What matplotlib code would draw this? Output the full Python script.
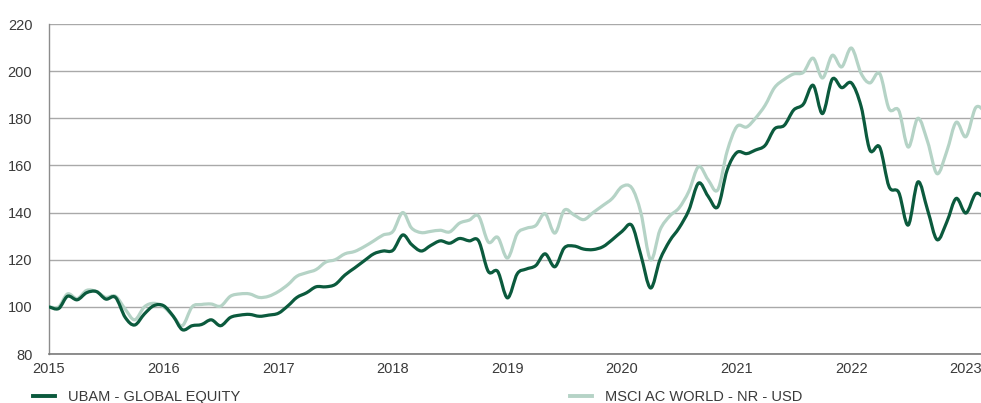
import matplotlib
matplotlib.use("Agg")
import matplotlib.pyplot as plt
import matplotlib.dates as mdates
from matplotlib.path import Path
from matplotlib.patches import PathPatch
from matplotlib.lines import Line2D
import numpy as np
import pandas as pd

# ---- data (monthly, Jan 2015 onwards) ----
start_month = "2015-01-01"

ubam_values = [
    100, 99.3, 104.5, 103, 106, 106.5, 103.3, 104, 95.5, 92.3, 97, 100.5,      # 2015
    100.5, 96, 90.3, 92, 92.5, 94.5, 92, 95.5, 96.5, 96.8, 96, 96.5,            # 2016
    97.3, 100.5, 104, 106, 108.5, 108.5, 109.5, 113.5, 116.5, 119.5, 122.5, 123.7,  # 2017
    124, 130.5, 126.5, 123.7, 126, 128, 127, 129, 128, 128, 115, 115,           # 2018
    103.8, 114, 116, 117.5, 122.5, 117, 125, 125.8, 124.5, 124.3, 125.5, 128.5, # 2019
    132, 134.6, 122, 108, 120, 128, 133.5, 141, 152.5, 147, 142.4, 158,         # 2020
    165.5, 165, 166.5, 168.5, 175.5, 177, 183.5, 186, 194, 182, 196.6, 193,     # 2021
    195, 185, 166.5, 167.8, 151, 148.5, 134.7, 153, 141, 128.5, 136, 146,       # 2022
    139.8, 148, 146,                                                            # 2023
]

msci_values = [
    100, 100, 105.5, 103.5, 107, 106.5, 104, 104.5, 99, 94.5, 100, 101.5,       # 2015
    100, 96, 92, 100, 101, 101.2, 100.3, 104.5, 105.5, 105.5, 104, 104.5,       # 2016
    106.5, 109.5, 113, 114.5, 115.8, 119, 120, 122.5, 123.5, 125.5, 128, 130.5, # 2017
    132, 140, 133.5, 131.5, 132, 132.5, 131.8, 135.5, 136.8, 138.5, 127.5, 129.5,  # 2018
    120.7, 131, 133.3, 134.5, 139.5, 131.3, 141, 139, 137, 140, 143, 146,       # 2019
    151, 150.5, 140, 120, 132.6, 138.5, 142, 149, 159.5, 154, 149.6, 166,       # 2020
    176.5, 176.3, 180, 185.5, 193, 196.5, 198.8, 199.5, 205.5, 197.1, 206.7, 201.8,  # 2021
    209.8, 199, 195, 199, 184, 183.3, 167.8, 180, 170, 156.5, 166, 178.3,       # 2022
    172.2, 184.5, 183,                                                          # 2023
]

series_labels = ["UBAM - GLOBAL EQUITY", "MSCI AC WORLD - NR - USD"]
year_ticks = list(range(2015, 2024))
y_ticks = [80, 100, 120, 140, 160, 180, 200, 220]

dates = pd.date_range(start_month, periods=len(ubam_values), freq="MS")

# ---- style ----
DARK = "#0b5a3d"
LIGHT = "#b5d3c6"
TXT = "#3a3a3a"
LW = 2.3
plt.rcParams["font.family"] = ["Liberation Sans", "DejaVu Sans"]

fig = plt.figure(figsize=(9.81, 4.03), dpi=100)
ax = fig.add_axes([49 / 981, 1 - 354 / 403, 1 - 49 / 981, (354 - 24) / 403])


def smooth_path(xvals, yvals):
    """Catmull-Rom curve through the data points, as cubic Bezier segments."""
    x = np.asarray(xvals, float)
    y = np.asarray(yvals, float)
    p = np.column_stack([x, y])
    pad = np.vstack([p[0], p, p[-1]])
    verts = [p[0]]
    codes = [Path.MOVETO]
    for i in range(len(p) - 1):
        p0, p1, p2, p3 = pad[i], pad[i + 1], pad[i + 2], pad[i + 3]
        c1 = p1 + (p2 - p0) / 6.0
        c2 = p2 - (p3 - p1) / 6.0
        verts += [c1, c2, p2]
        codes += [Path.CURVE4] * 3
    return Path(verts, codes)


xnum = mdates.date2num(dates)
for vals, col, z in [(msci_values, LIGHT, 3), (ubam_values, DARK, 4)]:
    patch = PathPatch(smooth_path(xnum, vals), facecolor="none", edgecolor=col,
                      lw=LW, joinstyle="round", capstyle="round", zorder=z,
                      transform=ax.transData)
    ax.add_patch(patch)

ax.xaxis_date()
ax.set_ylim(80, 220)
ax.set_yticks(y_ticks)
ax.set_xlim(pd.Timestamp("2015-01-01"), pd.Timestamp("2023-02-18"))
ax.set_xticks([pd.Timestamp(f"{y}-01-01") for y in year_ticks])
ax.xaxis.set_major_formatter(mdates.DateFormatter("%Y"))

ax.grid(axis="y", color="#a9a9a9", lw=1)
ax.set_axisbelow(True)
for s in ["top", "right"]:
    ax.spines[s].set_visible(False)
ax.spines["left"].set_color("#8c8c8c")
ax.spines["left"].set_linewidth(1)
ax.spines["bottom"].set_color("#7a7a7a")
ax.spines["bottom"].set_linewidth(1.2)
ax.tick_params(axis="both", length=0, labelsize=10.5, labelcolor=TXT)
ax.tick_params(axis="y", pad=12)
ax.tick_params(axis="x", pad=6)

h1 = Line2D([], [], color=DARK, lw=2.8)
h2 = Line2D([], [], color=LIGHT, lw=2.8)
leg_kw = dict(frameon=False, fontsize=10.5, handlelength=1.5, handletextpad=0.9,
              borderpad=0, borderaxespad=0, labelcolor=TXT)
fig.legend(handles=[h1], labels=[series_labels[0]], loc="center left",
           bbox_to_anchor=(33 / 981, 1 - 397 / 403), **leg_kw)
fig.legend(handles=[h2], labels=[series_labels[1]], loc="center left",
           bbox_to_anchor=(570 / 981, 1 - 397 / 403), **leg_kw)

fig.savefig("out.png", dpi=100)
